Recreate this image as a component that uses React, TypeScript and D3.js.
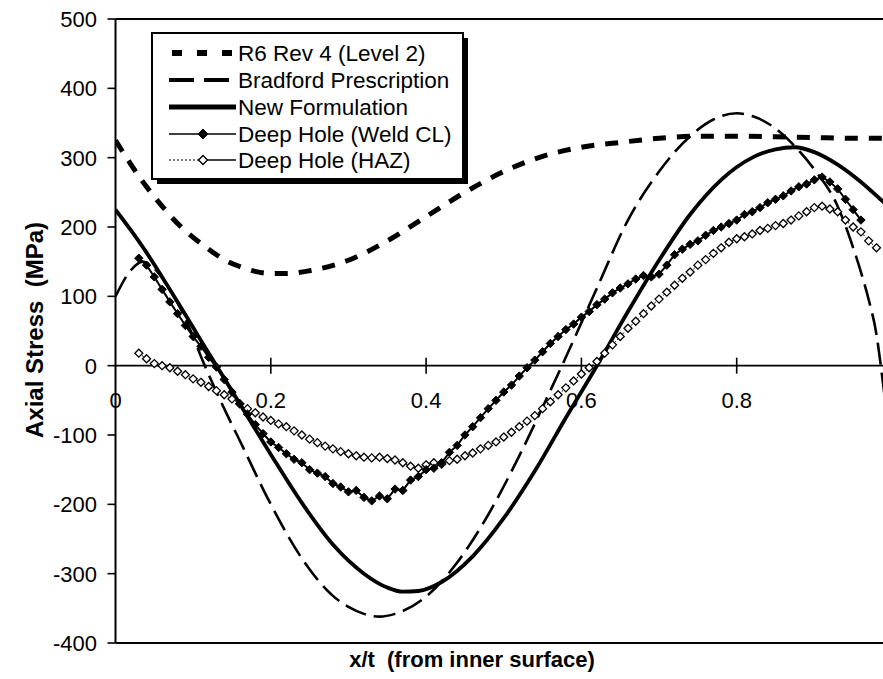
import React from 'react';
import * as d3 from 'd3';

const W = 883;
const H = 679;

const yTicks = [500, 400, 300, 200, 100, 0, -100, -200, -300, -400];
const xTicks = [0, 0.2, 0.4, 0.6, 0.8, 1.0];
const xTickLabels = ['0', '0.2', '0.4', '0.6', '0.8', ''];

const seriesNames = [
  'R6 Rev 4 (Level 2)',
  'Bradford Prescription',
  'New Formulation',
  'Deep Hole (Weld CL)',
  'Deep Hole (HAZ)',
];

// R6 Rev 4 (Level 2)
const r6X = [0, 0.02, 0.04, 0.06, 0.08, 0.1, 0.12, 0.14, 0.16, 0.18, 0.2, 0.22, 0.25, 0.3, 0.35, 0.4, 0.45, 0.5, 0.55, 0.6, 0.65, 0.7, 0.75, 0.8, 0.85, 0.9, 0.95, 1.0];
const r6Y = [325, 290, 258, 230, 205, 185, 168, 153, 143, 136, 133, 133, 137, 152, 180, 215, 250, 280, 302, 315, 322, 328, 331, 331, 330, 329, 328, 328];

// Bradford Prescription
const bradX = [0, 0.02, 0.035, 0.05, 0.07, 0.09, 0.115, 0.14, 0.16, 0.2, 0.24, 0.28, 0.3, 0.32, 0.34, 0.36, 0.4, 0.44, 0.48, 0.52, 0.56, 0.575, 0.62, 0.66, 0.7, 0.74, 0.77, 0.8, 0.82, 0.85, 0.87, 0.9, 0.93, 0.95, 0.96, 0.97, 0.98, 0.985, 0.99, 1.0];
const bradY = [100, 138, 150, 140, 110, 68, 0, -62, -108, -200, -278, -332, -348, -358, -362, -358, -333, -284, -215, -130, -36, 0, 112, 210, 280, 331, 355, 364, 360, 342, 322, 283, 230, 170, 135, 95, 45, 5, -40, -130];

// New Formulation
const newX = [0, 0.02, 0.04, 0.06, 0.08, 0.1, 0.12, 0.13, 0.14, 0.16, 0.2, 0.24, 0.28, 0.32, 0.35, 0.37, 0.39, 0.42, 0.46, 0.5, 0.54, 0.58, 0.62, 0.66, 0.7, 0.74, 0.78, 0.82, 0.85, 0.875, 0.9, 0.93, 0.96, 0.99, 1.0];
const newY = [225, 195, 163, 128, 92, 55, 18, 0, -18, -55, -128, -198, -258, -300, -320, -326, -325, -312, -275, -220, -152, -75, 0, 78, 152, 218, 268, 300, 312, 315, 308, 290, 265, 235, 225];

// Deep Hole (Weld CL), sampled every 0.01 from x/t = 0.03
const weldStart = 0.03;
const weldY = [155, 145, 128, 110, 92, 75, 58, 42, 28, 12, -2, -20, -38, -55, -70, -85, -98, -110, -118, -127, -135, -140, -150, -155, -160, -170, -175, -182, -180, -190, -195, -188, -192, -178, -180, -165, -160, -150, -148, -140, -125, -115, -100, -88, -75, -62, -50, -38, -28, -15, -3, 8, 20, 32, 42, 52, 60, 70, 78, 88, 96, 105, 112, 118, 125, 130, 128, 132, 145, 160, 168, 175, 180, 188, 195, 200, 205, 210, 218, 222, 228, 235, 240, 245, 252, 258, 262, 268, 272, 265, 255, 240, 225, 210];

// Deep Hole (HAZ), sampled every 0.01 from x/t = 0.03
const hazStart = 0.03;
const hazY = [18, 10, 3, 0, -3, -8, -13, -19, -24, -30, -36, -42, -48, -55, -62, -68, -74, -79, -84, -88, -94, -100, -106, -111, -116, -120, -124, -127, -130, -132, -133, -132, -134, -136, -140, -145, -148, -143, -140, -142, -137, -135, -130, -126, -120, -115, -110, -103, -96, -88, -80, -72, -62, -52, -42, -32, -22, -12, -3, 6, 18, 30, 42, 54, 64, 75, 86, 96, 106, 116, 126, 135, 145, 153, 162, 170, 178, 183, 186, 190, 195, 198, 202, 205, 210, 216, 222, 228, 230, 226, 222, 210, 200, 193, 180, 170];

const FONT = 'Liberation Sans, Arial, Helvetica, sans-serif';

export default function App() {
  const x = d3.scaleLinear().domain([0, 1]).range([115.5, 892]);
  const y = d3.scaleLinear().domain([-400, 500]).range([643, 19]);
  const left = x(0);
  const right = W;
  const top = y(500);
  const bottom = y(-400);

  const smooth = d3
    .line<[number, number]>()
    .x((d) => x(d[0]))
    .y((d) => y(d[1]))
    .curve(d3.curveMonotoneX);
  const straight = d3
    .line<[number, number]>()
    .x((d) => x(d[0]))
    .y((d) => y(d[1]));

  const zip = (xs: number[], ys: number[]) => xs.map((v, i) => [v, ys[i]] as [number, number]);
  const r6 = zip(r6X, r6Y);
  const brad = zip(bradX, bradY);
  const nf = zip(newX, newY);
  const weld = weldY.map((v, i) => [weldStart + i * 0.01, v] as [number, number]);
  const haz = hazY.map((v, i) => [hazStart + i * 0.01, v] as [number, number]);

  const diamond = (cx: number, cy: number, s: number) =>
    `M${cx},${cy - s}L${cx + s},${cy}L${cx},${cy + s}L${cx - s},${cy}Z`;

  // legend
  const lgX = 152;
  const lgY = 33;
  const lgW = 311;
  const lgH = 146;
  const rowY = [53, 80, 107, 134, 160];
  const sx0 = 169;
  const sx1 = 236;
  const smid = 203;

  return (
    <svg
      width={W}
      height={H}
      style={{ position: 'absolute', left: 0, top: 0, background: '#fff' }}
      fontFamily={FONT}
    >
      <defs>
        <clipPath id="plotclip">
          <rect x={left} y={top} width={right - left} height={bottom - top} />
        </clipPath>
      </defs>
      <rect x={0} y={0} width={W} height={H} fill="#fff" />

      {/* frame */}
      <line x1={left} x2={right} y1={top} y2={top} stroke="#000" strokeWidth={2} />
      <line x1={left} x2={right} y1={bottom} y2={bottom} stroke="#000" strokeWidth={2} />
      <line x1={left} x2={left} y1={top} y2={bottom} stroke="#000" strokeWidth={2} />
      {/* zero axis */}
      <line x1={left} x2={right} y1={y(0)} y2={y(0)} stroke="#000" strokeWidth={1.6} />

      {/* y ticks */}
      {yTicks.map((t) => (
        <g key={'y' + t}>
          <line x1={left - 8} x2={left} y1={y(t)} y2={y(t)} stroke="#000" strokeWidth={1.6} />
          <text
            x={97}
            y={y(t)}
            dy="0.36em"
            textAnchor="end"
            fontSize={22}
            fill="#000"
          >
            {t}
          </text>
        </g>
      ))}

      {/* x ticks */}
      {xTicks.map((t, i) => (
        <g key={'x' + t}>
          {t > 0 && x(t) < W && (
            <line x1={x(t)} x2={x(t)} y1={y(0) - 8} y2={y(0) + 8} stroke="#000" strokeWidth={1.6} />
          )}
          {xTickLabels[i] && (
            <text x={x(t)} y={408} textAnchor="middle" fontSize={22} fill="#000">
              {xTickLabels[i]}
            </text>
          )}
        </g>
      ))}

      {/* series */}
      <g clipPath="url(#plotclip)">
        <path d={smooth(brad) || ''} fill="none" stroke="#000" strokeWidth={2.6} strokeDasharray="22,8" />
        <path d={smooth(r6) || ''} fill="none" stroke="#000" strokeWidth={5} strokeDasharray="13,11" />
        <path d={smooth(nf) || ''} fill="none" stroke="#000" strokeWidth={3.8} />
        <path d={straight(haz) || ''} fill="none" stroke="#000" strokeWidth={1} strokeDasharray="2,2" />
        {haz.map((d, i) => (
          <path key={'h' + i} d={diamond(x(d[0]), y(d[1]), 4)} fill="#fff" stroke="#000" strokeWidth={1.3} />
        ))}
        <path d={straight(weld) || ''} fill="none" stroke="#000" strokeWidth={2} />
        {weld.map((d, i) => (
          <path key={'w' + i} d={diamond(x(d[0]), y(d[1]), 4.2)} fill="#000" stroke="#000" strokeWidth={1} />
        ))}
      </g>

      {/* legend */}
      <rect x={lgX + 5} y={lgY + 5} width={lgW} height={lgH} fill="#000" />
      <rect x={lgX} y={lgY} width={lgW} height={lgH} fill="#fff" stroke="#000" strokeWidth={2} />
      <line x1={sx0 + 3} x2={sx1} y1={rowY[0]} y2={rowY[0]} stroke="#000" strokeWidth={6} strokeDasharray="10,15" />
      <line x1={sx0} x2={sx1 - 6} y1={rowY[1]} y2={rowY[1]} stroke="#000" strokeWidth={4} strokeDasharray="25,10" />
      <line x1={sx0} x2={sx1} y1={rowY[2]} y2={rowY[2]} stroke="#000" strokeWidth={5} />
      <line x1={sx0} x2={sx1} y1={rowY[3]} y2={rowY[3]} stroke="#000" strokeWidth={1.5} />
      <path d={diamond(smid, rowY[3], 5)} fill="#000" stroke="#000" />
      <line x1={sx0} x2={smid} y1={rowY[4]} y2={rowY[4]} stroke="#000" strokeWidth={1.2} strokeDasharray="2,2" />
      <line x1={smid} x2={sx1} y1={rowY[4]} y2={rowY[4]} stroke="#000" strokeWidth={1.5} />
      <path d={diamond(smid, rowY[4], 4.5)} fill="#fff" stroke="#000" strokeWidth={1.4} />
      {seriesNames.map((n, i) => (
        <text key={n} x={238} y={rowY[i]} dy="0.36em" fontSize={22.5} fill="#000">
          {n}
        </text>
      ))}

      {/* axis titles */}
      <text x={472} y={667} textAnchor="middle" fontSize={22} fontWeight="bold" fill="#000" style={{ whiteSpace: 'pre' }}>
        {'x/t  (from inner surface)'}
      </text>
      <text
        transform={`translate(43,330) rotate(-90)`}
        textAnchor="middle"
        fontSize={24}
        fontWeight="bold"
        fill="#000"
        style={{ whiteSpace: 'pre' }}
      >
        {'Axial Stress  (MPa)'}
      </text>
    </svg>
  );
}
